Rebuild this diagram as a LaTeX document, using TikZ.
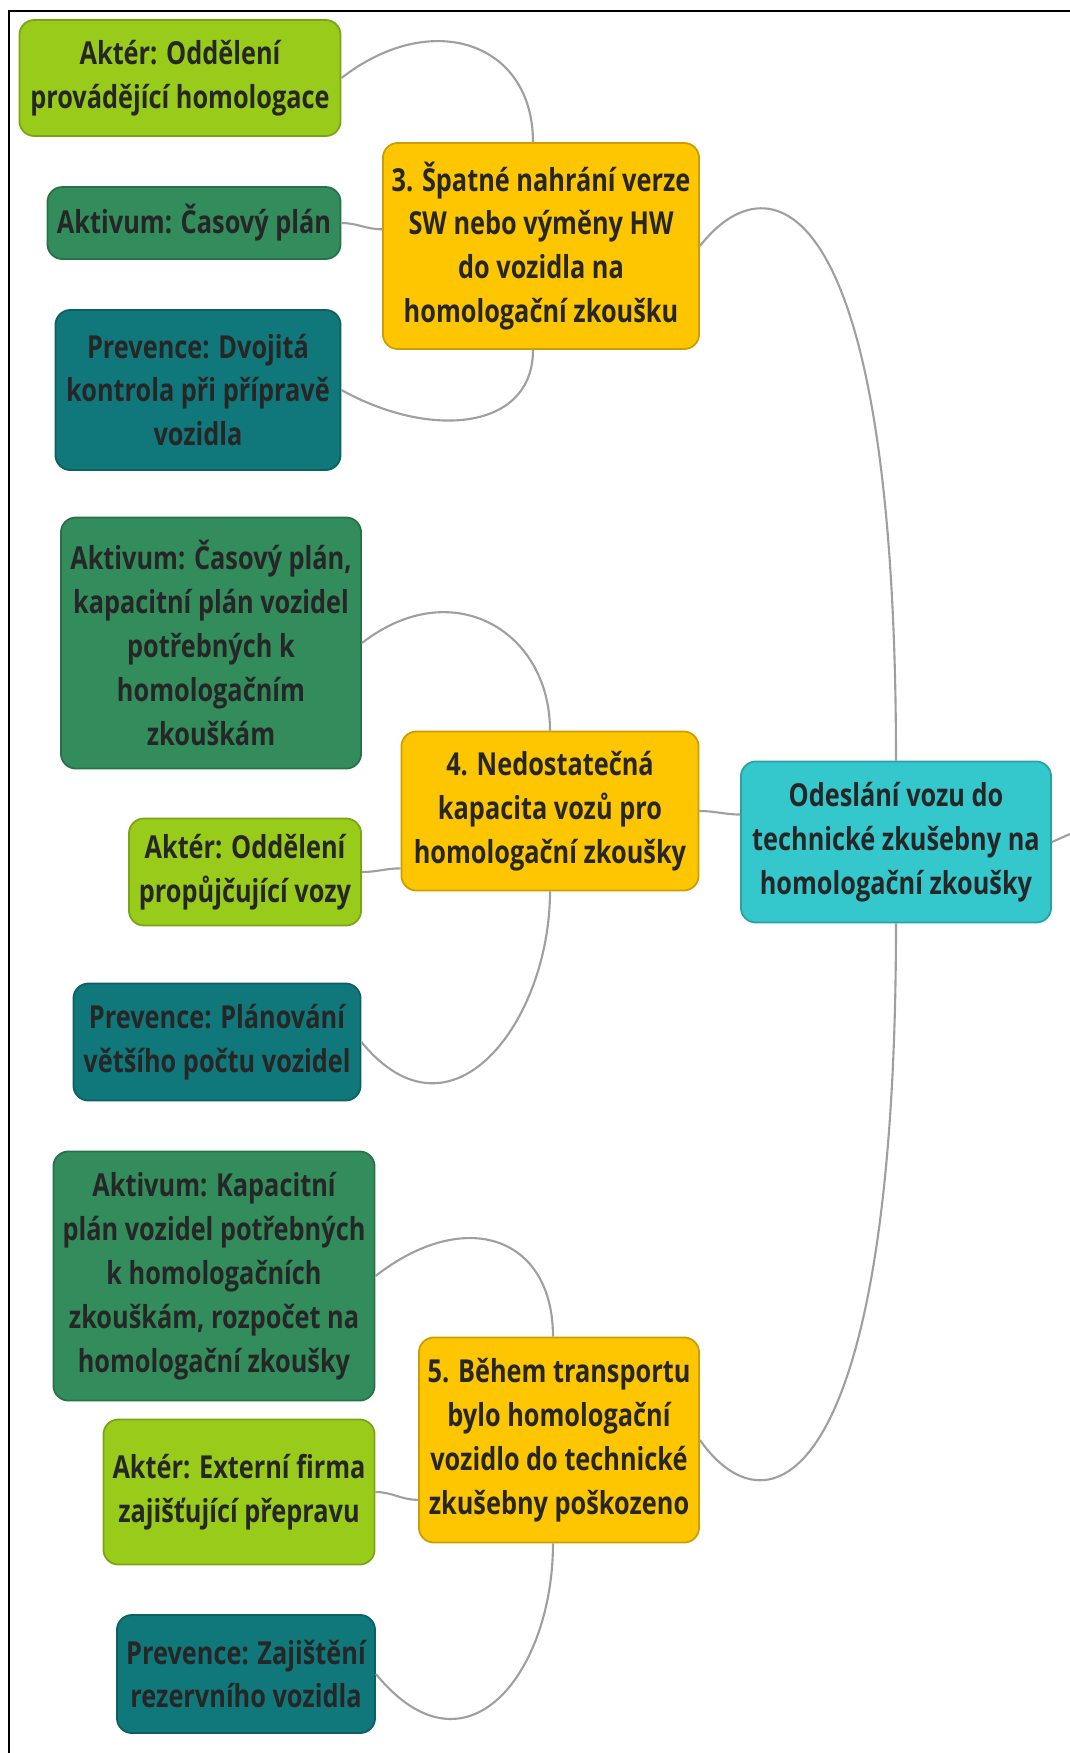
\documentclass[tikz,border=0pt]{standalone}
\usepackage{fontspec}
\setmainfont{Open Sans}[FakeStretch=0.8]
\definecolor{akterc}{RGB}{153,204,26}
\definecolor{aktivc}{RGB}{50,140,92}
\definecolor{prevc}{RGB}{16,120,122}
\definecolor{rizc}{RGB}{253,198,0}
\definecolor{krokc}{RGB}{52,200,205}

\begin{document}
\begin{tikzpicture}[x=0.01cm,y=-0.01cm,
  box/.style={rounded corners=0.15cm, align=center, inner sep=0pt, line width=0.5pt,
    font=\fontsize{9}{12.5}\selectfont\bfseries, text=black!85},
  akter/.style={box, fill=akterc, draw=akterc!80!black},
  aktiv/.style={box, fill=aktivc, draw=aktivc!80!black},
  prev/.style={box, fill=prevc, draw=prevc!80!black},
  riziko/.style={box, fill=rizc, draw=rizc!80!black},
  krok/.style={box, fill=krokc, draw=krokc!80!black},
  link/.style={draw=gray!75, line width=0.6pt}]
\useasboundingbox (0,0) rectangle (1070,1753);
\draw[line width=0.8pt] (1070,11) -- (9,11) -- (9,1753);

% riziko 3
\node[akter, minimum width=3.21cm, minimum height=1.16cm] (a3) at (180,78) {Aktér: Oddělení\\provádějící homologace};
\node[aktiv, minimum width=2.93cm, minimum height=0.72cm] (v3) at (194,223) {Aktivum: Časový plán};
\node[prev, minimum width=2.85cm, minimum height=1.60cm] (p3) at (198,390) {Prevence: Dvojitá\\kontrola při přípravě\\vozidla};
\node[riziko, minimum width=3.16cm, minimum height=2.06cm] (r3) at (541,246) {3. Špatné nahrání verze\\SW nebo výměny HW\\do vozidla na\\homologační zkoušku};

% riziko 4
\node[aktiv, minimum width=3.00cm, minimum height=2.51cm] (v4) at (211,643) {Aktivum: Časový plán,\\kapacitní plán vozidel\\potřebných k\\homologačním\\zkouškám};
\node[riziko, minimum width=2.97cm, minimum height=1.59cm] (r4) at (550,811) {4. Nedostatečná\\kapacita vozů pro\\homologační zkoušky};
\node[akter, minimum width=2.32cm, minimum height=1.07cm] (a4) at (245,872) {Aktér: Oddělení\\propůjčující vozy};
\node[prev, minimum width=2.87cm, minimum height=1.17cm] (p4) at (217,1042) {Prevence: Plánování\\většího počtu vozidel};

% krok procesu
\node[krok, minimum width=3.10cm, minimum height=1.61cm] (krok) at (896,842) {Odeslání vozu do\\technické zkušebny na\\homologační zkoušky};
\coordinate (dal) at (1070,834);

% riziko 5
\node[aktiv, minimum width=3.21cm, minimum height=2.49cm] (v5) at (214,1276) {Aktivum: Kapacitní\\plán vozidel potřebných\\k homologačních\\zkouškám, rozpočet na\\homologační zkoušky};
\node[riziko, minimum width=2.80cm, minimum height=2.05cm] (r5) at (559,1440) {5. Během transportu\\bylo homologační\\vozidlo do technické\\zkušebny poškozeno};
\node[akter, minimum width=2.71cm, minimum height=1.45cm] (a5) at (239,1492) {Aktér: Externí firma\\zajišťující přepravu};
\node[prev, minimum width=2.58cm, minimum height=1.18cm] (p5) at (246,1674) {Prevence: Zajištění\\rezervního vozidla};

% spojnice
\draw[link] (a3.east) .. controls +(90,-70) and +(0,-100) .. ([xshift=-0.08cm]r3.north);
\draw[link] (v3.east) to[out=0, in=180] (r3.174);
\draw[link] (p3.east) .. controls +(90,50) and +(0,80) .. ([xshift=-0.08cm]r3.south);
\draw[link] (v4.east) .. controls +(90,-70) and +(0,-100) .. (r4.north);
\draw[link] (a4.east) to[out=0, in=180] (r4.201);
\draw[link] (p4.east) .. controls +(90,110) and +(0,130) .. (r4.south);
\draw[link] (v5.east) .. controls +(90,-70) and +(0,-100) .. ([xshift=-0.06cm]r5.north);
\draw[link] (a5.east) to[out=0, in=180] (r5.203);
\draw[link] (p5.east) .. controls +(90,110) and +(0,130) .. ([xshift=-0.06cm]r5.south);
\draw[link] (r3.east) .. controls +(70,-90) and +(0,-570) .. (krok.north);
\draw[link] (r4.east) to[out=0, in=180] (krok.170);
\draw[link] (r5.east) .. controls +(70,100) and +(0,560) .. (krok.south);
\draw[link] (krok.east) -- (dal);
\end{tikzpicture}
\end{document}
